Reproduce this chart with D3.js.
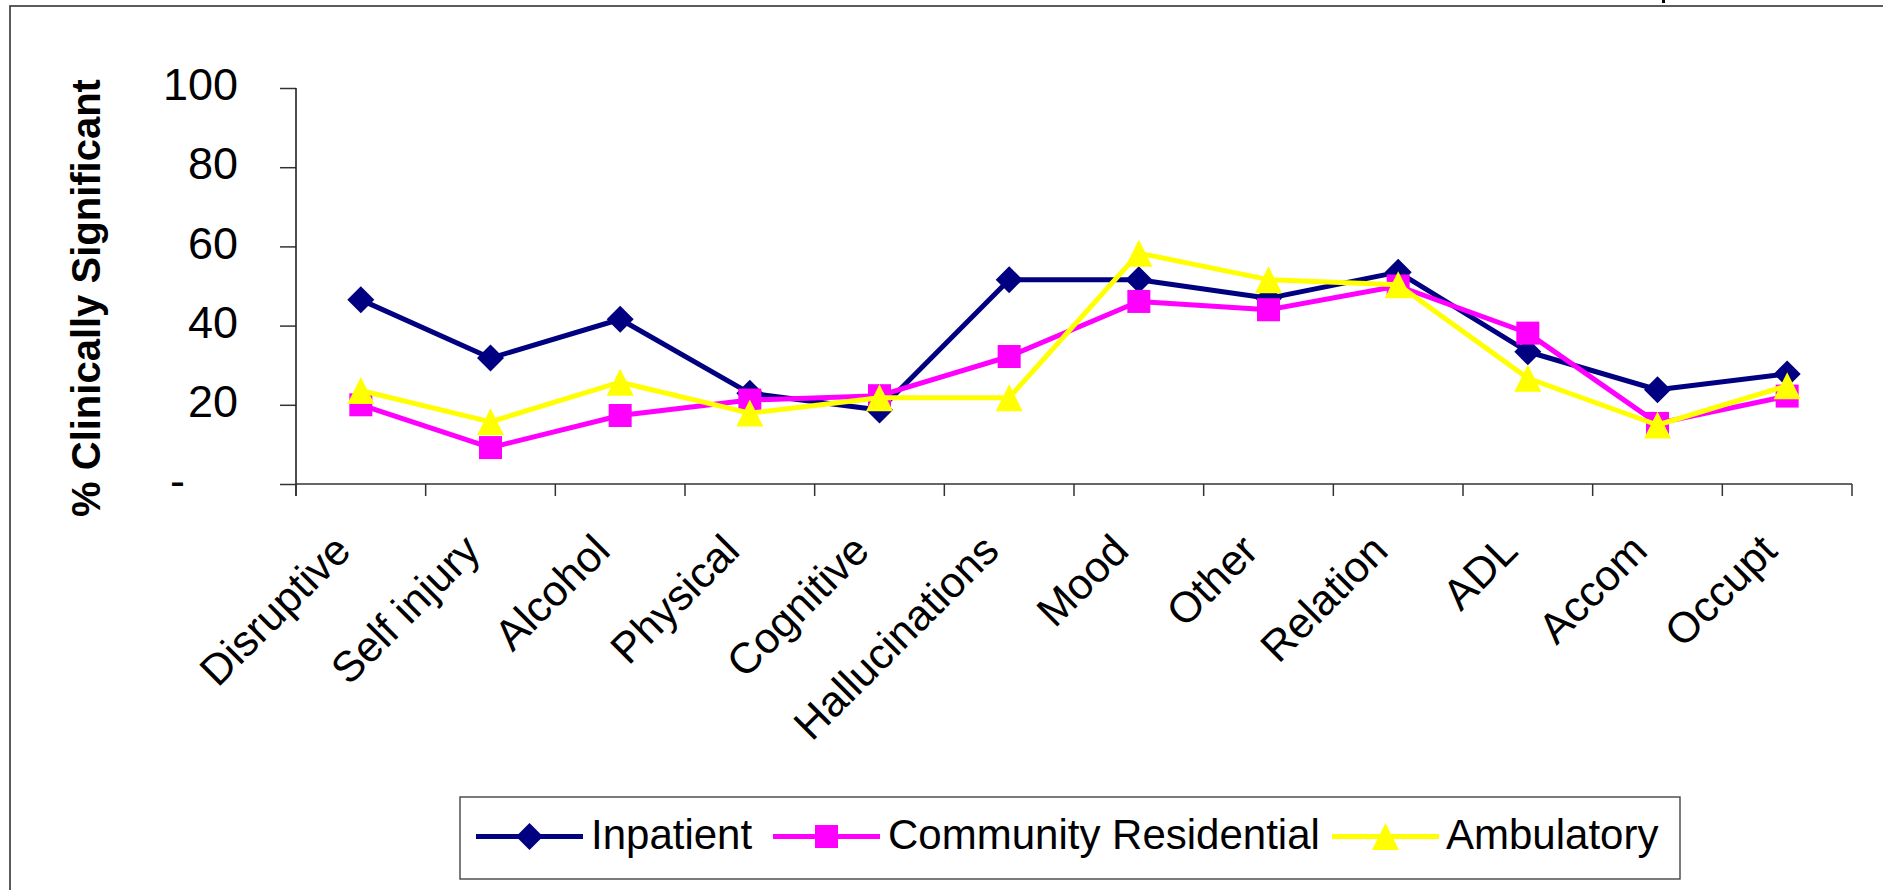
<!DOCTYPE html>
<html>
<head>
<meta charset="utf-8">
<script src="https://cdn.jsdelivr.net/npm/d3@7"></script>
<style>
  html, body { margin: 0; padding: 0; background: #fff; }
  svg { display: block; }
  text { font-family: "Liberation Sans", Arial, sans-serif; fill: #000; }
</style>
</head>
<body>
<svg id="chart" width="1883" height="890"></svg>
<script>
// Problem areas rated on the instrument
const categories = ["Disruptive", "Self injury", "Alcohol", "Physical", "Cognitive",
  "Hallucinations", "Mood", "Other", "Relation", "ADL", "Accom", "Occupt"];

// Percent of clients rated clinically significant, by setting
const inpatient  = [46.5, 31.8, 41.6, 22.9, 18.7, 51.6, 51.6, 46.9, 53.5, 33.4, 23.8, 27.8];
const community  = [20.0,  9.2, 17.3, 21.2, 22.3, 32.2, 46.1, 44.0, 50.0, 38.1, 15.3, 22.2];
const ambulatory = [23.6, 15.7, 25.7, 17.9, 21.8, 21.8, 58.3, 51.6, 50.3, 26.7, 14.9, 24.8];

const seriesNames = ["Inpatient", "Community Residential", "Ambulatory"];
const yTicks = [0, 20, 40, 60, 80, 100];
const yTitle = "% Clinically Significant";

const series = [
  { name: seriesNames[0], values: inpatient,  color: "#000080", shape: "diamond" },
  { name: seriesNames[1], values: community,  color: "#FF00FF", shape: "square" },
  { name: seriesNames[2], values: ambulatory, color: "#FFFF00", shape: "triangle" }
];

const svg = d3.select("#chart");

// outer chart frame (continues past the right and bottom edges)
svg.append("rect")
  .attr("x", 10).attr("y", 6).attr("width", 1960).attr("height", 960)
  .attr("fill", "none").attr("stroke", "#333").attr("stroke-width", 1.6);
svg.append("rect").attr("x", 1662).attr("y", 0).attr("width", 3).attr("height", 3).attr("fill", "#000");

const plot = { left: 296, right: 1852, top: 88, bottom: 484 };

const x = d3.scaleBand().domain(categories).range([plot.left, plot.right]).padding(0);
const y = d3.scaleLinear().domain([0, 100]).range([plot.bottom, plot.top]);

// y axis
const yAxis = d3.axisLeft(y)
  .tickValues(yTicks)
  .tickSize(16)
  .tickPadding(42)
  .tickFormat(d => d === 0 ? "-" : d3.format("d")(d));

const gy = svg.append("g").attr("transform", `translate(${plot.left},0)`).call(yAxis);
gy.select(".domain").remove();
gy.selectAll(".tick line").attr("stroke", "#333").attr("stroke-width", 1.5);
gy.selectAll(".tick text")
  .attr("font-size", 45)
  .attr("font-family", "'Liberation Sans', Arial, sans-serif")
  .attr("fill", "#000")
  .attr("dy", "0.26em")
  .attr("dx", d => d === 0 ? -53 : 0);

// axis lines
svg.append("line")
  .attr("x1", plot.left).attr("x2", plot.left)
  .attr("y1", y(100)).attr("y2", plot.bottom + 12)
  .attr("stroke", "#222").attr("stroke-width", 1.6);
svg.append("line")
  .attr("x1", plot.left).attr("x2", plot.right)
  .attr("y1", plot.bottom).attr("y2", plot.bottom)
  .attr("stroke", "#333").attr("stroke-width", 1.6);

// x ticks at category boundaries
const boundaries = categories.map(c => x(c)).concat([x.range()[1]]);
svg.append("g").selectAll("line").data(boundaries).join("line")
  .attr("x1", d => d).attr("x2", d => d)
  .attr("y1", plot.bottom).attr("y2", plot.bottom + 12)
  .attr("stroke", "#333").attr("stroke-width", 1.5);

// rotated category labels
svg.append("g").selectAll("text").data(categories).join("text")
  .attr("transform", d => `translate(${x(d) + x.bandwidth() / 2 - 8},553) rotate(-45)`)
  .attr("text-anchor", "end")
  .attr("font-size", 43)
  .text(d => d);

// y axis title
svg.append("text")
  .attr("transform", "translate(100,298) rotate(-90)")
  .attr("text-anchor", "middle")
  .attr("font-size", 40)
  .attr("font-weight", "bold")
  .text(yTitle);

// marker shapes
const symbolFor = {
  diamond: d3.symbol().type(d3.symbolSquare).size(13.5 * 13.5 * 2),
  square: d3.symbol().type(d3.symbolSquare).size(23 * 23)
};
function markerPath(shape) {
  if (shape === "triangle") {
    const w = 27, h = 27;
    return `M0,${-h / 2}L${w / 2},${h / 2}L${-w / 2},${h / 2}Z`;
  }
  return symbolFor[shape]();
}
function markerTransform(shape, px, py) {
  return shape === "diamond" ? `translate(${px},${py}) rotate(45)` : `translate(${px},${py})`;
}

const line = d3.line()
  .x((d, i) => x(categories[i]) + x.bandwidth() / 2)
  .y(d => y(d));

series.forEach(s => {
  const g = svg.append("g");
  g.append("path")
    .attr("d", line(s.values))
    .attr("fill", "none")
    .attr("stroke", s.color)
    .attr("stroke-width", 5)
    .attr("stroke-linejoin", "round");
  g.selectAll("path.mark").data(s.values).join("path")
    .attr("class", "mark")
    .attr("d", markerPath(s.shape))
    .attr("transform", (d, i) => markerTransform(s.shape, x(categories[i]) + x.bandwidth() / 2, y(d)))
    .attr("fill", s.color);
});

// legend
const legend = svg.append("g");
legend.append("rect")
  .attr("x", 460).attr("y", 797).attr("width", 1220).attr("height", 82)
  .attr("fill", "#fff").attr("stroke", "#444").attr("stroke-width", 1.4);

const legendItems = [
  { lineX: 476, textX: 591 },
  { lineX: 773, textX: 888 },
  { lineX: 1332, textX: 1446 }
];
series.forEach((s, i) => {
  const it = legendItems[i];
  const cy = 836.5;
  legend.append("line")
    .attr("x1", it.lineX).attr("x2", it.lineX + 107)
    .attr("y1", cy).attr("y2", cy)
    .attr("stroke", s.color).attr("stroke-width", 5);
  legend.append("path")
    .attr("d", markerPath(s.shape))
    .attr("transform", markerTransform(s.shape, it.lineX + 53.5, cy))
    .attr("fill", s.color);
  legend.append("text")
    .attr("x", it.textX).attr("y", 849)
    .attr("font-size", 42)
    .text(s.name);
});
</script>
</body>
</html>
